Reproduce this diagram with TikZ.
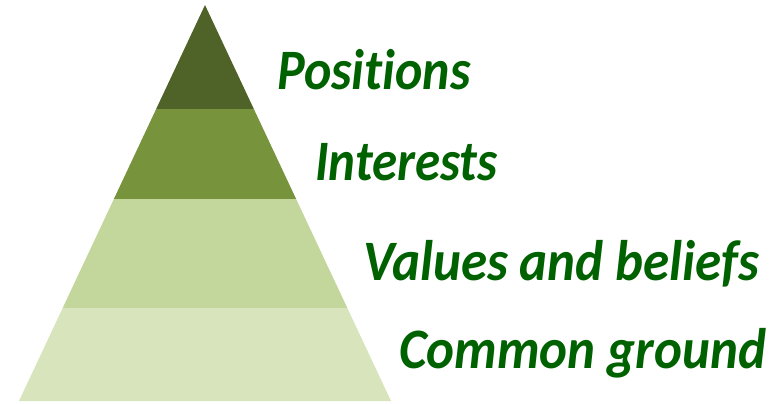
\documentclass[tikz,border=0pt]{standalone}
\usepackage{fontspec}
\setmainfont{Carlito}[Ligatures=NoCommon]
\usepackage{pdfrender}
\definecolor{lay1}{HTML}{4F6228}
\definecolor{lay2}{HTML}{77933C}
\definecolor{lay3}{HTML}{C3D69B}
\definecolor{lay4}{HTML}{D7E4BC}
\definecolor{txtgreen}{HTML}{006100}
\definecolor{glow}{HTML}{BFD69A}
\newcommand{\glowtext}[1]{\textpdfrender{TextRenderingMode=FillStroke,LineWidth=2.2,StrokeColor=glow,FillColor=txtgreen}{#1}}
\begin{document}
\begin{tikzpicture}[x=1pt,y=-1pt,
  label/.style={anchor=base west,inner sep=0pt,font=\fontsize{52}{56}\selectfont\bfseries\itshape,text=txtgreen}]
\useasboundingbox (0,0) rectangle (777,404);
\fill[lay1] (205,5) -- ({205+0.4697*104},109) -- ({205-0.4697*104},109) -- cycle;
\fill[lay2] ({205-0.4697*104},109) -- ({205+0.4697*104},109) -- ({205+0.4697*194},199) -- ({205-0.4697*194},199) -- cycle;
\fill[lay3] ({205-0.4697*194},199) -- ({205+0.4697*194},199) -- ({205+0.4697*303},308) -- ({205-0.4697*303},308) -- cycle;
\fill[lay4] ({205-0.4697*303},308) -- ({205+0.4697*303},308) -- ({205+0.4697*396},401) -- ({205-0.4697*396},401) -- cycle;
\node[label] (t1) at (277,90) {\scalebox{1}[1.1]{\glowtext{Positions}}};
\node[label] (t2) at (315,180) {\scalebox{0.98}[1.1]{\glowtext{Interests}}};
\node[label] (t3) at (363,280) {\scalebox{1.02}[1.1]{\glowtext{Values and beliefs}}};
\node[label] (t4) at (399,368) {\scalebox{1.02}[1.1]{\glowtext{Common ground}}};
\end{tikzpicture}
\end{document}
